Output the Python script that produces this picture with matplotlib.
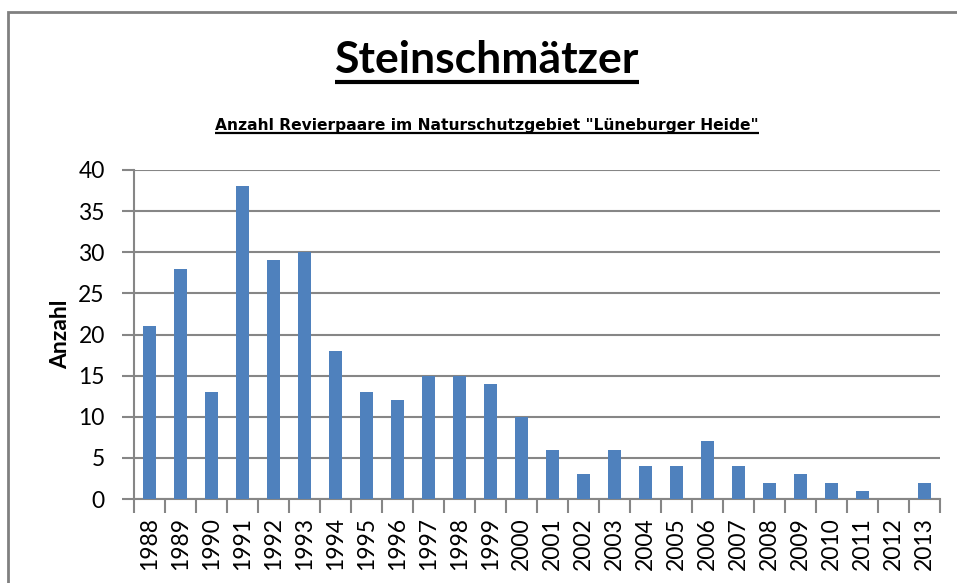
import matplotlib
matplotlib.use("Agg")
import matplotlib.pyplot as plt
import numpy as np
from matplotlib.lines import Line2D
from matplotlib.patches import Rectangle

years = [str(y) for y in range(1988, 2014)]
counts = [21, 28, 13, 38, 29, 30, 18, 13, 12, 15, 15, 14, 10, 6, 3, 6, 4, 4, 7, 4, 2, 3, 2, 1, 0, 2]
yticks = [0, 5, 10, 15, 20, 25, 30, 35, 40]

title = "Steinschmätzer"
subtitle = 'Anzahl Revierpaare im Naturschutzgebiet "Lüneburger Heide"'
ylabel = "Anzahl"

W, H = 957, 583
fig = plt.figure(figsize=(W / 100, H / 100), dpi=100)
plt.rcParams['font.family'] = ['Lato', 'DejaVu Sans']

# outer chart border
fig.add_artist(Rectangle((8 / W, -0.1), 1.2, 1 - 12 / H + 0.1, transform=fig.transFigure,
                         fill=False, edgecolor='#808080', linewidth=2))

ax = fig.add_axes([134 / W, (H - 499) / H, (940 - 134) / W, (499 - 170) / H])
x = np.arange(len(years))
ax.bar(x, counts, width=0.42, color='#4F81BD', zorder=3)
ax.set_xlim(-0.5, len(years) - 0.5)
ax.set_ylim(0, 40)
ax.set_yticks(yticks)
ax.set_yticklabels([str(v) for v in yticks], fontsize=16.5)
ax.set_xticks(x)
ax.set_xticklabels(years, rotation=90, fontsize=16.5)
ax.tick_params(axis='x', length=0, pad=13)
ax.set_xticks(np.arange(-0.5, len(years) + 0.5, 1), minor=True)
ax.tick_params(axis='x', which='minor', length=10, width=1.5, color='#868686', direction='out')
ax.tick_params(axis='y', length=9, width=1.5, color='#868686', direction='out', pad=12)
ax.grid(axis='y', color='#868686', linewidth=1.5, zorder=0)
for s in ['top', 'right']:
    ax.spines[s].set_visible(False)
for s in ['left', 'bottom']:
    ax.spines[s].set_color('#868686')
    ax.spines[s].set_linewidth(1.5)
ax.set_ylabel(ylabel, fontsize=16.5, fontweight='bold')
ax.yaxis.set_label_coords((71 - 134) / (940 - 134), (499 - 334) / (499 - 170))

t1 = fig.text(487 / W, 1 - 73 / H, title, ha='center', va='baseline', fontsize=32, fontweight='bold')
t2 = fig.text(487 / W, 1 - 130 / H, subtitle, ha='center', va='baseline', fontsize=11.2,
              fontweight='bold', family=['DejaVu Sans'])

fig.canvas.draw()
r = fig.canvas.get_renderer()
for t, ypx, lw in [(t1, 82, 3), (t2, 133.5, 1.6)]:
    bb = t.get_window_extent(r)
    y = 1 - ypx / H
    fig.add_artist(Line2D([bb.x0 / W, bb.x1 / W], [y, y], transform=fig.transFigure,
                          color='black', linewidth=lw, solid_capstyle='butt'))

fig.savefig("out.png", dpi=100)
